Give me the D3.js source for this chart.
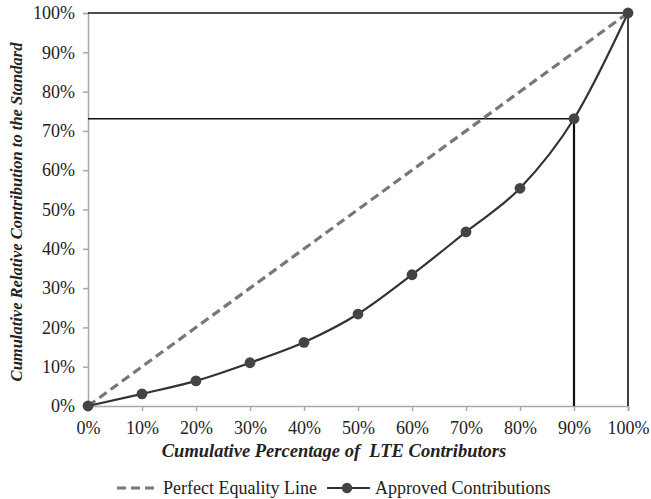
<html>
<head>
<script src="https://d3js.org/d3.v7.min.js"></script>
<style>
  body { margin: 0; background: #fff; }
  text { font-family: "Liberation Serif", "Times New Roman", serif; white-space: pre; }
</style>
</head>
<body>
<div id="chart"></div>
<script>
// cumulative % of contributors vs cumulative % of contribution
const contributors = [0, 10, 20, 30, 40, 50, 60, 70, 80, 90, 100];
const approved = [0, 3.1, 6.4, 11.0, 16.2, 23.4, 33.4, 44.3, 55.4, 73.1, 100];
const equality = [0, 100];
const tickValues = [0, 10, 20, 30, 40, 50, 60, 70, 80, 90, 100];
const markX = 90, markY = 73.1;

const width = 651, height = 499;
const margin = { top: 13, right: 23, bottom: 93, left: 88 };
const serif = "'Liberation Serif', 'Times New Roman', serif";

const svg = d3.select("#chart").append("svg")
  .attr("width", width).attr("height", height);

const x = d3.scaleLinear().domain([0, 100]).range([margin.left, width - margin.right]);
const y = d3.scaleLinear().domain([0, 100]).range([height - margin.bottom, margin.top]);

// axes
const yAxis = svg.append("g")
  .attr("transform", "translate(" + x(0) + ",0)")
  .call(d3.axisLeft(y).tickValues(tickValues).tickSize(5).tickPadding(8).tickFormat(d => d + "%"));
const xAxis = svg.append("g")
  .attr("transform", "translate(0," + y(0) + ")")
  .call(d3.axisBottom(x).tickValues(tickValues).tickSize(5).tickPadding(10).tickFormat(d => d + "%"));

[xAxis, yAxis].forEach(a => {
  a.attr("font-family", serif);
  a.select(".domain").attr("stroke", "#a8a8a8").attr("stroke-width", 1.5);
  a.selectAll(".tick line").attr("stroke", "#a8a8a8").attr("stroke-width", 1.5);
  a.selectAll(".tick text").attr("fill", "#222").style("font-size", "18px")
    .style("font-family", serif);
});

// reference lines
const ref = svg.append("g").attr("stroke", "#111").attr("stroke-width", 1.6).attr("fill", "none");
ref.append("line").attr("x1", x(0)).attr("x2", x(100)).attr("y1", y(100)).attr("y2", y(100));
ref.append("line").attr("x1", x(100)).attr("x2", x(100)).attr("y1", y(100)).attr("y2", y(0));
ref.append("line").attr("x1", x(0)).attr("x2", x(markX)).attr("y1", y(markY)).attr("y2", y(markY));
ref.append("line").attr("x1", x(markX)).attr("x2", x(markX)).attr("y1", y(markY)).attr("y2", y(0)).attr("stroke-width", 2.2);

// perfect equality
svg.append("path")
  .datum(equality)
  .attr("d", d3.line().x(d => x(d)).y(d => y(d)))
  .attr("fill", "none").attr("stroke", "#777").attr("stroke-width", 3.2)
  .attr("stroke-dasharray", "9,5");

// approved contributions
const pts = contributors.map((c, i) => [c, approved[i]]);
svg.append("path")
  .datum(pts)
  .attr("d", d3.line().x(d => x(d[0])).y(d => y(d[1])).curve(d3.curveMonotoneX))
  .attr("fill", "none").attr("stroke", "#333").attr("stroke-width", 2.2);
svg.selectAll("circle.pt").data(pts).enter().append("circle")
  .attr("class", "pt")
  .attr("cx", d => x(d[0])).attr("cy", d => y(d[1])).attr("r", 5.4)
  .attr("fill", "#444");

// axis titles
svg.append("text")
  .attr("x", 334).attr("y", 457)
  .attr("text-anchor", "middle")
  .style("font-size", "18.5px").style("font-weight", "bold").style("font-style", "italic")
  .attr("fill", "#222")
  .text("Cumulative Percentage of  LTE Contributors");
svg.append("text")
  .attr("transform", "translate(22,212) rotate(-90)")
  .attr("text-anchor", "middle")
  .style("font-size", "16.5px").style("font-weight", "bold").style("font-style", "italic")
  .attr("fill", "#222")
  .text("Cumulative Relative Contribution to the Standard");

// legend
const lg = svg.append("g").attr("transform", "translate(0,488)");
lg.append("line").attr("x1", 117).attr("x2", 158).attr("y1", 0).attr("y2", 0)
  .attr("stroke", "#777").attr("stroke-width", 3.2).attr("stroke-dasharray", "9,5");
lg.append("text").attr("x", 163).attr("y", 6).style("font-size", "18px").attr("fill", "#222")
  .text("Perfect Equality Line");
lg.append("line").attr("x1", 327).attr("x2", 370).attr("y1", 0).attr("y2", 0)
  .attr("stroke", "#333").attr("stroke-width", 2.2);
lg.append("circle").attr("cx", 347).attr("cy", 0).attr("r", 5.2).attr("fill", "#444");
lg.append("text").attr("x", 375).attr("y", 6).style("font-size", "18px").attr("fill", "#222")
  .text("Approved Contributions");
</script>
</body>
</html>
